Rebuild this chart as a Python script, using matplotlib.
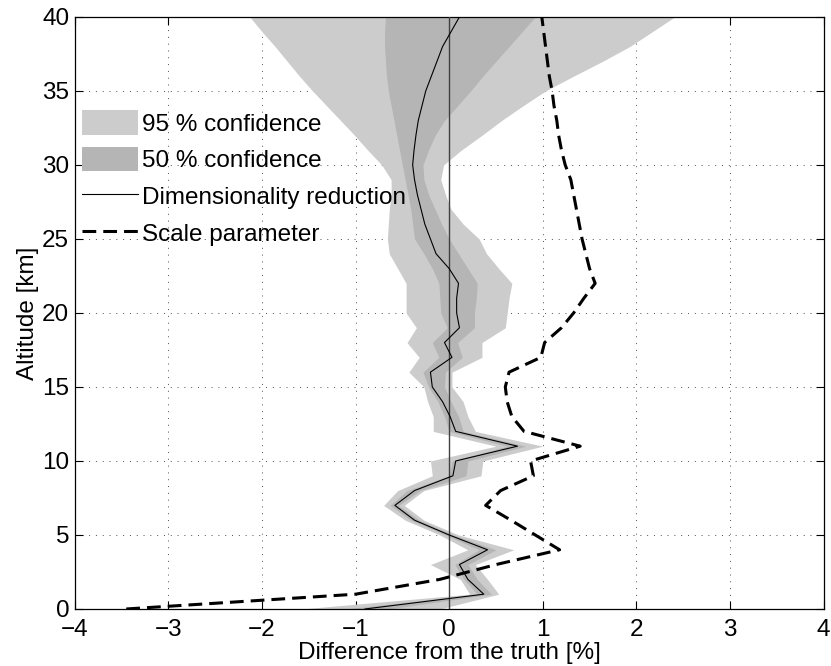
import matplotlib
matplotlib.use('Agg')
import matplotlib.pyplot as plt
from matplotlib.patches import Patch
from matplotlib.lines import Line2D

altitude = list(range(0, 41))

dim_reduction = [-0.90, 0.37, 0.20, 0.11, 0.41, 0.00, -0.37, -0.58, -0.37, 0.04,
                 0.07, 0.73, 0.07, 0.01, -0.07, -0.18, -0.20, 0.03, -0.05, 0.11,
                 0.08, 0.08, 0.10, 0.00, -0.14, -0.20, -0.26, -0.30, -0.34, -0.37,
                 -0.39, -0.375, -0.355, -0.33, -0.29, -0.25, -0.19, -0.13, -0.07, 0.02,
                 0.11]

scale_parameter = [-3.45, -1.00, -0.10, 0.50, 1.18, 0.92, 0.66, 0.39, 0.55, 0.90,
                   0.87, 1.40, 0.80, 0.67, 0.62, 0.60, 0.64, 0.98, 1.02, 1.20,
                   1.33, 1.44, 1.56, 1.50, 1.46, 1.42, 1.39, 1.36, 1.33, 1.30,
                   1.24, 1.20, 1.17, 1.15, 1.12, 1.10, 1.07, 1.05, 1.03, 1.01,
                   0.99]

ci95_low = [-1.58, 0.22, 0.12, -0.20, 0.20, -0.10, -0.47, -0.70, -0.55, -0.18,
            -0.20, 0.50, -0.17, -0.17, -0.23, -0.27, -0.43, -0.32, -0.45, -0.35,
            -0.46, -0.46, -0.46, -0.55, -0.64, -0.66, -0.65, -0.64, -0.62, -0.62,
            -0.72, -0.87, -1.01, -1.16, -1.31, -1.46, -1.60, -1.73, -1.86, -2.00,
            -2.13]
ci95_high = [-0.10, 0.53, 0.41, 0.28, 0.69, 0.10, -0.27, -0.48, -0.27, 0.34,
             0.36, 1.00, 0.28, 0.20, 0.15, 0.03, 0.03, 0.35, 0.35, 0.60,
             0.62, 0.64, 0.67, 0.53, 0.40, 0.32, 0.15, 0.02, -0.04, -0.09,
             -0.06, 0.13, 0.35, 0.56, 0.79, 1.03, 1.33, 1.64, 1.93, 2.17,
             2.41]
ci50_low = [-1.10, 0.30, 0.16, 0.06, 0.32, -0.04, -0.41, -0.63, -0.45, 0.00,
            0.03, 0.62, 0.00, -0.05, -0.12, -0.22, -0.28, -0.11, -0.18, -0.02,
            -0.09, -0.10, -0.11, -0.18, -0.27, -0.37, -0.39, -0.41, -0.44, -0.47,
            -0.50, -0.53, -0.56, -0.59, -0.62, -0.65, -0.67, -0.68, -0.69, -0.69,
            -0.68]
ci50_high = [-0.65, 0.45, 0.30, 0.20, 0.50, 0.05, -0.32, -0.54, -0.31, 0.18,
             0.20, 0.82, 0.15, 0.10, 0.02, -0.05, -0.04, 0.14, 0.09, 0.27,
             0.27, 0.29, 0.30, 0.20, 0.10, 0.00, -0.08, -0.15, -0.22, -0.27,
             -0.28, -0.22, -0.15, -0.05, 0.09, 0.23, 0.36, 0.50, 0.64, 0.78,
             0.92]

x_ticks = [-4, -3, -2, -1, 0, 1, 2, 3, 4]
y_ticks = [0, 5, 10, 15, 20, 25, 30, 35, 40]
labels = ['95 % confidence', '50 % confidence', 'Dimensionality reduction', 'Scale parameter']

plt.rcParams['font.family'] = ['Liberation Sans', 'DejaVu Sans']
FS = 17.5
light = '#cccccc'
dark = '#b5b5b5'

fig = plt.figure(figsize=(8.31, 6.66), dpi=100)
ax = fig.add_axes([0.090, 0.0856, 0.901, 0.889])

ax.fill_betweenx(altitude, ci95_low, ci95_high, color=light, lw=0, zorder=1)
ax.fill_betweenx(altitude, ci50_low, ci50_high, color=dark, lw=0, zorder=2)
ax.axvline(0, color='0.25', lw=1.0, zorder=3)
ax.plot(dim_reduction, altitude, color='k', lw=0.8, zorder=4)
ax.plot(scale_parameter, altitude, color='k', lw=2.2, ls=(0, (4.5, 2.3)), zorder=5)

ax.set_xlim(-4, 4)
ax.set_ylim(0, 40)
ax.set_xticks(x_ticks)
ax.set_yticks(y_ticks)
ax.grid(True, color='0.3', lw=0.7, ls=(0, (1, 6)), zorder=0)
ax.set_axisbelow(True)
ax.tick_params(direction='in', length=5.5, width=0.8, top=True, right=True,
               labelsize=FS)
ax.tick_params(axis='x', pad=7.5)
ax.tick_params(axis='y', pad=4)
for s in ax.spines.values():
    s.set_linewidth(0.9)

ax.set_xlabel('Difference from the truth [%]', fontsize=FS, labelpad=0.5)
ax.set_ylabel('Altitude [km]', fontsize=FS, labelpad=2)

handles = [Patch(facecolor=light, edgecolor='none'),
           Patch(facecolor=dark, edgecolor='none'),
           Line2D([], [], color='k', lw=0.8),
           Line2D([], [], color='k', lw=2.2, ls=(0, (4.5, 2.3)))]
ax.legend(handles, labels, loc='upper left', bbox_to_anchor=(0.0102, 0.842),
          frameon=False, fontsize=FS, borderpad=0, borderaxespad=0,
          handlelength=2.3, handleheight=1.15, handletextpad=0.17,
          labelspacing=0.47)

fig.savefig('out.png', dpi=100)
